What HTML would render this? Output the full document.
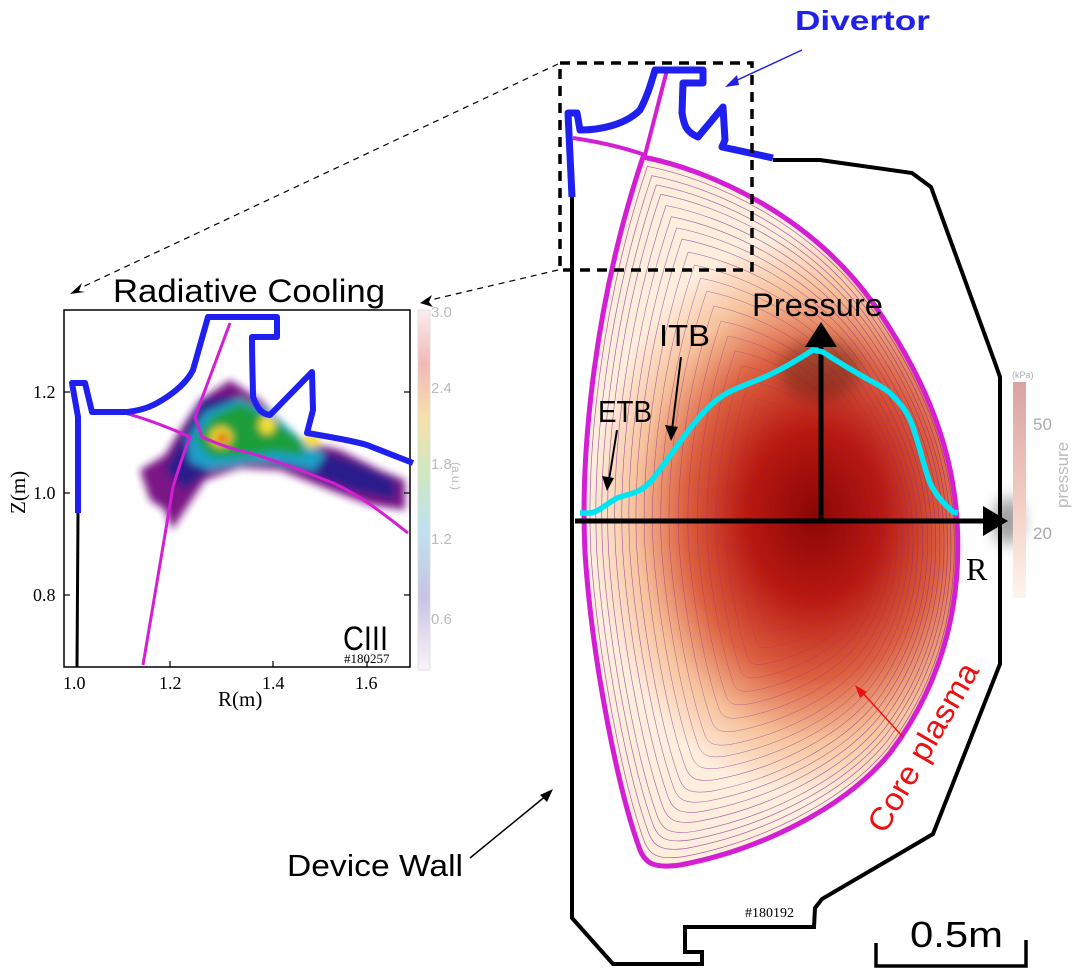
<!DOCTYPE html>
<html><head><meta charset="utf-8"><style>
html,body{margin:0;padding:0;background:#fff;}
svg{display:block;}
.s{font-family:"Liberation Sans",sans-serif;}
.r{font-family:"Liberation Serif",serif;}
</style></head><body>
<svg width="1072" height="969" viewBox="0 0 1072 969" xmlns="http://www.w3.org/2000/svg">
<defs>
<radialGradient id="pg" gradientUnits="userSpaceOnUse" cx="815" cy="515" r="225" gradientTransform="translate(815 515) scale(1 1.25) translate(-815 -515)">
<stop offset="0" stop-color="#8a0606"/>
<stop offset="0.3" stop-color="#b81810"/>
<stop offset="0.58" stop-color="#dc6040"/>
<stop offset="0.8" stop-color="#f6c29c"/>
<stop offset="1" stop-color="#fdeede"/>
</radialGradient>
<linearGradient id="cb1" x1="0" y1="0" x2="0" y2="1">
<stop offset="0" stop-color="#fbeeee"/><stop offset="0.15" stop-color="#f2b8b8"/>
<stop offset="0.3" stop-color="#f7e0a8"/><stop offset="0.45" stop-color="#cfe8c0"/>
<stop offset="0.6" stop-color="#bfe2ee"/><stop offset="0.8" stop-color="#c8c4e2"/>
<stop offset="1" stop-color="#fbf4fa"/></linearGradient>
<linearGradient id="cb2" x1="0" y1="0" x2="0" y2="1">
<stop offset="0" stop-color="#d9a3a3"/><stop offset="0.5" stop-color="#f1c9bd"/><stop offset="1" stop-color="#fdf5ec"/></linearGradient>
<filter id="bl" x="-20%" y="-20%" width="140%" height="140%"><feGaussianBlur stdDeviation="4"/></filter>
<filter id="bl2" x="-50%" y="-50%" width="200%" height="200%"><feGaussianBlur stdDeviation="8"/></filter>
<path id="bd" d="M643,157 C710,170 810,215 873,303 C920,370 952,440 957,520 C962,600 945,680 890,753 C845,808 760,850 680,865 C652,869 645,862 640,850 C618,790 592,660 585,553 C580,450 595,300 643,157 Z"/>
</defs>

<use href="#bd" fill="url(#pg)"/>
<g fill="none" stroke="#8a2a8a" stroke-width="0.7" opacity="0.75">
<use href="#bd" transform="translate(820 530) scale(0.975) translate(-820 -530)"/>
<use href="#bd" transform="translate(820 530) scale(0.95) translate(-820 -530)"/>
<use href="#bd" transform="translate(820 530) scale(0.925) translate(-820 -530)"/>
<use href="#bd" transform="translate(820 530) scale(0.9) translate(-820 -530)"/>
<use href="#bd" transform="translate(820 530) scale(0.87) translate(-820 -530)"/>
<use href="#bd" transform="translate(820 530) scale(0.84) translate(-820 -530)"/>
<use href="#bd" transform="translate(820 530) scale(0.81) translate(-820 -530)"/>
<use href="#bd" transform="translate(820 530) scale(0.78) translate(-820 -530)"/>
<use href="#bd" transform="translate(820 530) scale(0.745) translate(-820 -530)"/>
<use href="#bd" transform="translate(820 530) scale(0.71) translate(-820 -530)"/>
<use href="#bd" transform="translate(820 530) scale(0.675) translate(-820 -530)"/>
<use href="#bd" transform="translate(820 530) scale(0.64) translate(-820 -530)"/>
<use href="#bd" transform="translate(820 530) scale(0.6) translate(-820 -530)"/>
<use href="#bd" transform="translate(820 530) scale(0.56) translate(-820 -530)"/>
<use href="#bd" transform="translate(820 530) scale(0.52) translate(-820 -530)"/>
<use href="#bd" transform="translate(820 530) scale(0.48) translate(-820 -530)"/>
<use href="#bd" transform="translate(820 530) scale(0.44) translate(-820 -530)"/>
<use href="#bd" transform="translate(820 530) scale(0.4) translate(-820 -530)"/>
<use href="#bd" transform="translate(820 530) scale(0.35) translate(-820 -530)"/>
<use href="#bd" transform="translate(820 530) scale(0.3) translate(-820 -530)"/>
<use href="#bd" transform="translate(820 530) scale(0.25) translate(-820 -530)"/>
<use href="#bd" transform="translate(820 530) scale(0.2) translate(-820 -530)"/>
<use href="#bd" transform="translate(820 530) scale(0.15) translate(-820 -530)"/>
<use href="#bd" transform="translate(820 530) scale(0.1) translate(-820 -530)"/>
</g>
<use href="#bd" fill="none" stroke="#d41ed4" stroke-width="5"/>
<path d="M573,138 C600,142 625,148 645,155 L667,70" fill="none" stroke="#d41ed4" stroke-width="4"/>

<path d="M572,195 L572,918 L613,964 L702,964 L702,952 L685,952 L685,927 L814,927 L815,908 L822,899 L933,834 L1000,664 L1000,377 L994,360 L931,187 L912,173 L820,160 L773,160" fill="none" stroke="#000" stroke-width="4"/>
<path d="M572,197 L568,113 L577,113 L580,130 C600,130 625,125 640,110 C648,95 652,80 655,70 L703,70 L703,83 L683,83 L682,113 C684,125 686,132 698,137 L723,107 L725,140 L722,147 L773,158" fill="none" stroke="#1f1ff0" stroke-width="7" stroke-linejoin="round"/>

<rect x="560" y="63" width="192" height="207" fill="none" stroke="#000" stroke-width="3.5" stroke-dasharray="10,7"/>
<line x1="558" y1="64" x2="76" y2="290" stroke="#000" stroke-width="1.2" stroke-dasharray="6,5"/>
<path d="M70,294 L82,283 L79,291 L85,292 Z" fill="#000"/>
<line x1="558" y1="270" x2="426" y2="301" stroke="#000" stroke-width="1.2" stroke-dasharray="6,5"/>
<path d="M420,303 L432,295 L429,302 L433,307 Z" fill="#000"/>

<text class="s" x="795" y="30" font-size="28" font-weight="bold" fill="#2020e6" textLength="135" lengthAdjust="spacingAndGlyphs">Divertor</text>
<line x1="802" y1="50" x2="733" y2="82" stroke="#2020e6" stroke-width="1.5"/>
<path d="M725,87 L737,75 L739,85 Z" fill="#2020e6"/>

<ellipse cx="820" cy="370" rx="40" ry="30" fill="#000" opacity="0.25" filter="url(#bl2)"/>
<ellipse cx="1008" cy="521" rx="14" ry="24" fill="#000" opacity="0.4" filter="url(#bl2)"/>
<line x1="575" y1="521" x2="985" y2="521" stroke="#000" stroke-width="5"/>
<path d="M983,506 L1008,521 L983,536 Z" fill="#000"/>
<line x1="821" y1="523" x2="821" y2="340" stroke="#000" stroke-width="5"/>
<path d="M805,347 L821,322 L837,347 Z" fill="#000"/>
<path d="M580,513 L590,513 C600,512 610,500 620,497 C630,494 635,493 640,490 C650,485 658,472 667,460 C678,445 688,430 697,420 C705,410 715,400 727,393 C745,384 760,380 773,373 C790,365 805,355 813,350 L823,352 C835,360 845,366 857,373 C870,381 882,386 890,393 C900,403 908,412 913,427 C920,448 925,470 930,483 C937,497 945,505 953,512 L958,513" fill="none" stroke="#00e4f4" stroke-width="5.5" stroke-linejoin="round"/>
<text class="s" x="752" y="316" font-size="32" fill="#000" textLength="131" lengthAdjust="spacingAndGlyphs">Pressure</text>
<text class="s" x="659" y="346" font-size="31" fill="#000" textLength="51" lengthAdjust="spacingAndGlyphs">ITB</text>
<text class="s" x="598" y="422" font-size="31" fill="#000" textLength="54" lengthAdjust="spacingAndGlyphs">ETB</text>
<line x1="681" y1="357" x2="672" y2="430" stroke="#000" stroke-width="2"/>
<path d="M665,425 L671,441 L678,427 Z" fill="#000"/>
<line x1="617" y1="430" x2="609" y2="480" stroke="#000" stroke-width="2"/>
<path d="M602,476 L607,491 L614,478 Z" fill="#000"/>
<text class="r" x="966" y="580" font-size="32" fill="#000">R</text>

<rect x="1013" y="382" width="13" height="216" fill="url(#cb2)"/>
<text class="s" x="1012" y="378" font-size="9" fill="#aaa">(kPa)</text>
<text class="s" x="1033" y="430" font-size="17" fill="#aaa">50</text>
<text class="s" x="1033" y="539" font-size="17" fill="#aaa">20</text>
<text class="s" transform="translate(1068,508) rotate(-90)" font-size="17" fill="#bbb">pressure</text>

<text class="s" transform="translate(885,835) rotate(-60)" font-size="32" fill="#ee1111" textLength="190" lengthAdjust="spacingAndGlyphs">Core plasma</text>
<line x1="903" y1="737" x2="860" y2="690" stroke="#ee1111" stroke-width="1.5"/>
<path d="M855,685 L867,692 L860,698 Z" fill="#ee1111"/>

<text class="s" x="287" y="876" font-size="31" fill="#000" textLength="176" lengthAdjust="spacingAndGlyphs">Device Wall</text>
<line x1="470" y1="858" x2="547" y2="795" stroke="#000" stroke-width="1.5"/>
<path d="M553,789 L540,795 L547,802 Z" fill="#000"/>

<text class="r" x="745" y="917" font-size="14" fill="#000">#180192</text>
<text class="s" x="910" y="947" font-size="36" fill="#000" textLength="93" lengthAdjust="spacingAndGlyphs">0.5m</text>
<path d="M876,943 L876,966 L1026,966 L1026,940" fill="none" stroke="#000" stroke-width="3.5"/>

<text class="s" x="113" y="302" font-size="32" fill="#000" textLength="272" lengthAdjust="spacingAndGlyphs">Radiative Cooling</text>
<g filter="url(#bl)">
<path d="M140,470 L165,455 L180,430 L200,400 L230,380 L260,400 L300,440 L340,450 L380,470 L405,480 L405,510 L370,505 L330,490 L280,470 L240,468 L205,480 L185,510 L172,530 L165,510 L150,500 Z" fill="#7a1885"/>
<path d="M165,470 L180,440 L200,400 L230,395 L265,415 L300,445 L350,460 L395,480 L395,500 L350,490 L300,470 L255,460 L210,470 L185,490 L175,480 Z" fill="#2a1a8a"/>
<path d="M187,440 L205,412 L240,398 L270,412 L300,438 L325,455 L315,470 L275,462 L245,463 L210,470 L190,462 Z" fill="#1aa0c8"/>
<path d="M195,440 L212,416 L240,403 L268,416 L300,440 L305,456 L275,452 L245,456 L212,458 Z" fill="#1f9e3a"/>
<ellipse cx="221" cy="437" rx="11" ry="10" fill="#f5e030"/>
<ellipse cx="267" cy="425" rx="8" ry="9" fill="#f5e030"/>
<ellipse cx="312" cy="440" rx="8" ry="8" fill="#f5e030"/>
<ellipse cx="222" cy="438" rx="6" ry="5" fill="#e01010"/>
</g>
<rect x="64" y="310" width="346" height="357" fill="none" stroke="#000" stroke-width="1.5"/>
<g stroke="#000" stroke-width="1.2">
<line x1="77" y1="667" x2="77" y2="661"/><line x1="170" y1="667" x2="170" y2="661"/><line x1="273" y1="667" x2="273" y2="661"/><line x1="367" y1="667" x2="367" y2="661"/>
<line x1="64" y1="392" x2="70" y2="392"/><line x1="64" y1="493" x2="70" y2="493"/><line x1="64" y1="595" x2="70" y2="595"/>
<line x1="410" y1="392" x2="404" y2="392"/><line x1="410" y1="493" x2="404" y2="493"/><line x1="410" y1="595" x2="404" y2="595"/>
</g>
<g font-size="18" fill="#000">
<text class="r" x="63" y="689">1.0</text><text class="r" x="159" y="689">1.2</text><text class="r" x="262" y="689">1.4</text><text class="r" x="355" y="689">1.6</text>
<text class="r" x="33" y="398">1.2</text><text class="r" x="33" y="499">1.0</text><text class="r" x="33" y="601">0.8</text>
<text class="r" x="218" y="706" font-size="21">R(m)</text>
<text class="r" transform="translate(25,514) rotate(-90)" font-size="21">Z(m)</text>
</g>
<path d="M230,323 L195,417 L202,437 C220,445 235,450 250,453 C280,462 305,472 333,483 C360,495 385,515 408,533" fill="none" stroke="#d41ed4" stroke-width="3"/>
<path d="M125,413 C150,420 170,428 190,437 C183,455 178,470 173,487 L143,665" fill="none" stroke="#d41ed4" stroke-width="3"/>
<line x1="78" y1="513" x2="77" y2="667" stroke="#000" stroke-width="3"/>
<path d="M78,513 L78,417 L72,383 L85,383 L92,412 L127,412 C145,410 155,405 167,397 C180,388 188,380 193,370 L208,317 L277,317 L277,337 L252,337 C252,365 253,385 253,397 C258,410 262,414 270,415 L312,372 L313,410 L307,433 C330,437 350,440 367,445 L413,463" fill="none" stroke="#1f1ff0" stroke-width="6" stroke-linejoin="round"/>
<text class="s" x="343" y="650" font-size="34" fill="#000" textLength="45" lengthAdjust="spacingAndGlyphs">CIII</text>
<text class="r" x="344" y="663" font-size="13" fill="#000">#180257</text>
<rect x="418" y="310" width="12" height="360" fill="url(#cb1)" stroke="#ddd" stroke-width="0.8"/>
<g font-size="15" fill="#bbb">
<text class="s" x="431" y="317">3.0</text><text class="s" x="431" y="393">2.4</text><text class="s" x="431" y="469">1.8</text><text class="s" x="431" y="544">1.2</text><text class="s" x="431" y="624">0.6</text>
<text class="s" transform="translate(452,462) rotate(90)" font-size="12">(a.u.)</text>
</g>
</svg>
</body></html>
